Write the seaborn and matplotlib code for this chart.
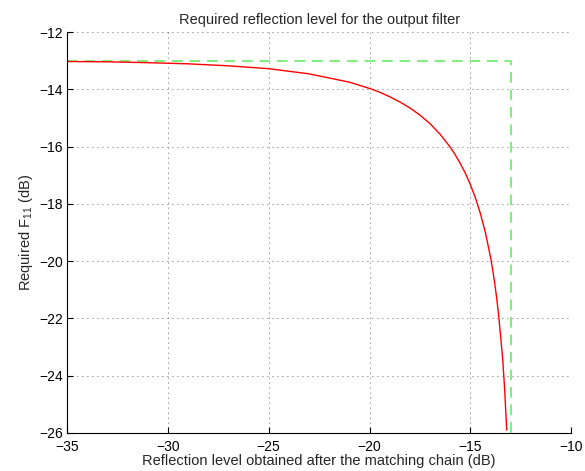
import matplotlib
matplotlib.use("Agg")
import matplotlib.pyplot as plt
import seaborn as sns
import pandas as pd

# Data
match_level = [-35, -33, -31, -29, -27, -25, -23, -21, -20, -19.5, -19, -18.5,
               -18, -17.5, -17, -16.5, -16, -15.75, -15.5, -15.25, -15, -14.75,
               -14.5, -14.25, -14, -13.9, -13.8, -13.7, -13.6, -13.5, -13.4,
               -13.3, -13.2]
required_f11 = [-13.03, -13.04, -13.07, -13.11, -13.18, -13.28, -13.46, -13.75,
                -13.97, -14.10, -14.26, -14.44, -14.65, -14.90, -15.20, -15.57,
                -16.02, -16.29, -16.59, -16.93, -17.33, -17.79, -18.35, -19.02,
                -19.87, -20.28, -20.74, -21.27, -21.89, -22.64, -23.40, -24.50,
                -25.90]
limit_x = [-35, -13, -13]
limit_y = [-13, -13, -26]

xticks = [-35, -30, -25, -20, -15, -10]
yticks = [-26, -24, -22, -20, -18, -16, -14, -12]

sns.set_theme(style="white")
plt.rcParams['font.family'] = ['Liberation Sans', 'DejaVu Sans']
plt.rcParams['mathtext.fontset'] = 'custom'
plt.rcParams['mathtext.rm'] = 'Liberation Sans'
plt.rcParams['mathtext.it'] = 'Liberation Sans'

fig = plt.figure(figsize=(5.85, 4.71), dpi=100)
ax = fig.add_axes([0.1145, 0.0807, 0.862, 0.8513])

df_curve = pd.DataFrame({"x": match_level, "y": required_f11})
df_lim = pd.DataFrame({"x": limit_x, "y": limit_y})

sns.lineplot(data=df_lim, x="x", y="y", ax=ax, color="#7fee7f", lw=1.4,
             linestyle=(0, (5.5, 3.5)), sort=False, estimator=None)
sns.lineplot(data=df_curve, x="x", y="y", ax=ax, color="#ff0000", lw=1.0,
             sort=False, estimator=None)

ax.set_xlim(-35, -10)
ax.set_ylim(-26, -12)
ax.set_xticks(xticks)
ax.set_yticks(yticks)
ax.set_xticklabels([f"\u2212{abs(t)}" for t in xticks])
ax.set_yticklabels([f"\u2212{abs(t)}" for t in yticks])
ax.grid(True, linestyle=(0, (1, 5)), color="#333333", lw=0.6)
for s in ["top", "right"]:
    ax.spines[s].set_visible(False)
for s in ["left", "bottom"]:
    ax.spines[s].set_color("black")
    ax.spines[s].set_linewidth(0.8)
ax.tick_params(direction="in", length=4, width=0.8, labelsize=10, colors="black",
               left=True, bottom=True)
ax.tick_params(axis="x", pad=5)
ax.tick_params(axis="y", pad=3)
ax.set_xlabel("Reflection level obtained after the matching chain (dB)", fontsize=10.5, labelpad=0)
ax.set_ylabel("Required F$_{11}$ (dB)", fontsize=10.5, labelpad=3)
ax.set_title("Required reflection level for the output filter", fontsize=10.5, pad=6)

fig.savefig("out.png", dpi=100)
